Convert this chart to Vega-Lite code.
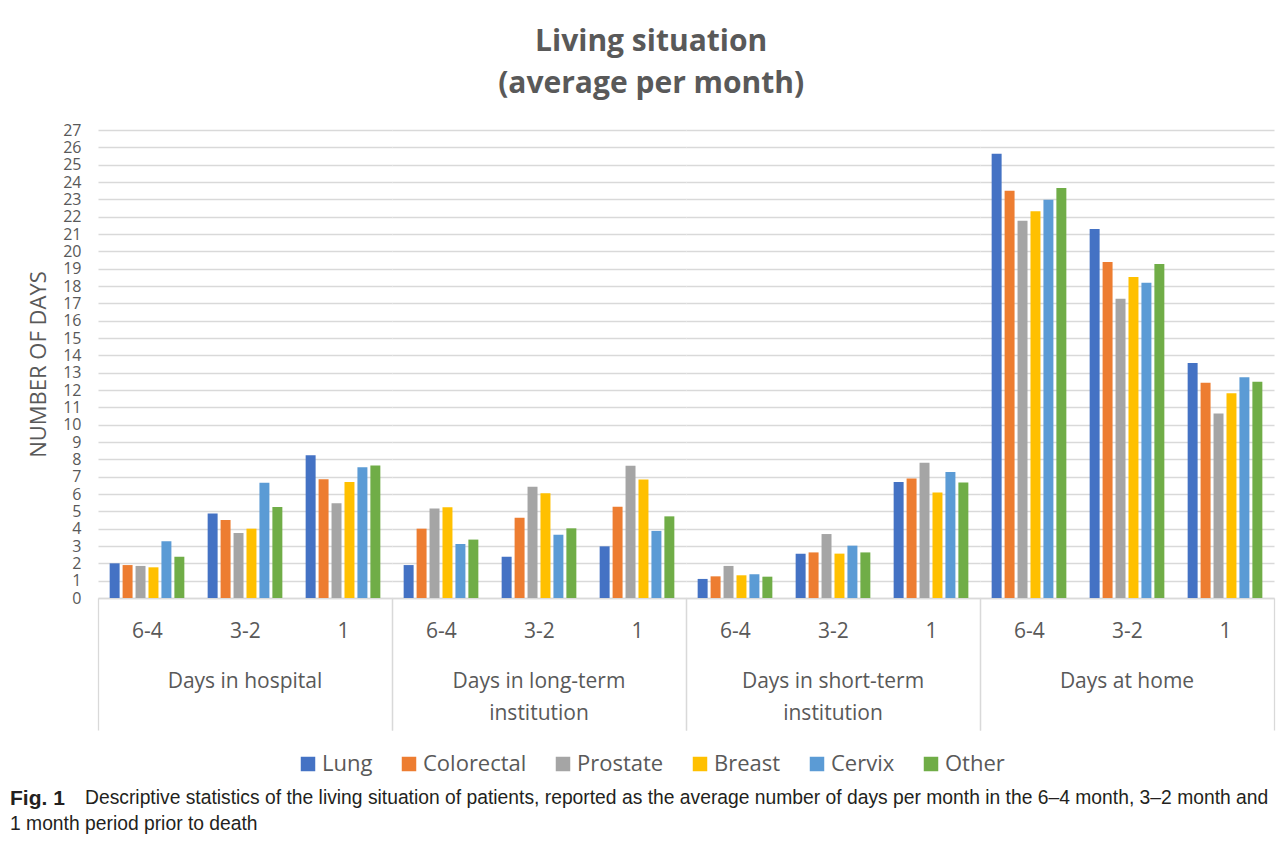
{
  "$schema": "https://vega.github.io/schema/vega-lite/v6.json",
  "padding": {"left": 10, "top": 27, "right": 5, "bottom": 5},
  "background": "white",
  "config": {
    "font": "Open Sans",
    "view": {"stroke": null},
    "axis": {"labelColor": "#595959", "titleColor": "#595959"},
    "legend": {
      "orient": "bottom",
      "direction": "horizontal",
      "symbolType": "square",
      "symbolSize": 210,
      "symbolStrokeWidth": 0,
      "labelFontSize": 22,
      "labelColor": "#595959",
      "columnPadding": 25,
      "labelOffset": 3,
      "offset": 22,
      "layout": {"bottom": {"anchor": "middle"}}
    }
  },
  "title": {
    "text": "Fig. 1",
    "subtitle": ["\u200b\u00a0\u00a0\u00a0\u00a0\u00a0\u00a0\u00a0\u00a0\u00a0\u00a0\u00a0\u00a0\u00a0\u00a0Descriptive statistics of the living situation of patients, reported as the average number of days per month in the 6–4 month, 3–2 month and", "1 month period prior to death"],
    "orient": "bottom",
    "anchor": "start",
    "frame": "group",
    "font": "Liberation Sans",
    "subtitleFont": "Liberation Sans",
    "fontSize": 21,
    "subtitleFontSize": 19.3,
    "fontWeight": "bold",
    "color": "#231f20",
    "subtitleColor": "#231f20",
    "lineHeight": 26,
    "subtitleLineHeight": 26,
    "subtitlePadding": -20,
    "offset": 13,
    "dx": -88
  },
  "vconcat": [
    {
      "data": {
        "values": [
          {"group": "Days in hospital", "period": "6-4", "cancer": "Lung", "days": 2.0},
          {"group": "Days in hospital", "period": "6-4", "cancer": "Colorectal", "days": 1.9},
          {"group": "Days in hospital", "period": "6-4", "cancer": "Prostate", "days": 1.85},
          {"group": "Days in hospital", "period": "6-4", "cancer": "Breast", "days": 1.77},
          {"group": "Days in hospital", "period": "6-4", "cancer": "Cervix", "days": 3.27},
          {"group": "Days in hospital", "period": "6-4", "cancer": "Other", "days": 2.38},
          {"group": "Days in hospital", "period": "3-2", "cancer": "Lung", "days": 4.88},
          {"group": "Days in hospital", "period": "3-2", "cancer": "Colorectal", "days": 4.5},
          {"group": "Days in hospital", "period": "3-2", "cancer": "Prostate", "days": 3.75},
          {"group": "Days in hospital", "period": "3-2", "cancer": "Breast", "days": 4.0},
          {"group": "Days in hospital", "period": "3-2", "cancer": "Cervix", "days": 6.65},
          {"group": "Days in hospital", "period": "3-2", "cancer": "Other", "days": 5.25},
          {"group": "Days in hospital", "period": "1", "cancer": "Lung", "days": 8.23},
          {"group": "Days in hospital", "period": "1", "cancer": "Colorectal", "days": 6.85},
          {"group": "Days in hospital", "period": "1", "cancer": "Prostate", "days": 5.46},
          {"group": "Days in hospital", "period": "1", "cancer": "Breast", "days": 6.69},
          {"group": "Days in hospital", "period": "1", "cancer": "Cervix", "days": 7.54},
          {"group": "Days in hospital", "period": "1", "cancer": "Other", "days": 7.65},
          {"group": "Days in long-term institution", "period": "6-4", "cancer": "Lung", "days": 1.9},
          {"group": "Days in long-term institution", "period": "6-4", "cancer": "Colorectal", "days": 4.0},
          {"group": "Days in long-term institution", "period": "6-4", "cancer": "Prostate", "days": 5.17},
          {"group": "Days in long-term institution", "period": "6-4", "cancer": "Breast", "days": 5.23},
          {"group": "Days in long-term institution", "period": "6-4", "cancer": "Cervix", "days": 3.12},
          {"group": "Days in long-term institution", "period": "6-4", "cancer": "Other", "days": 3.37},
          {"group": "Days in long-term institution", "period": "3-2", "cancer": "Lung", "days": 2.38},
          {"group": "Days in long-term institution", "period": "3-2", "cancer": "Colorectal", "days": 4.63},
          {"group": "Days in long-term institution", "period": "3-2", "cancer": "Prostate", "days": 6.42},
          {"group": "Days in long-term institution", "period": "3-2", "cancer": "Breast", "days": 6.04},
          {"group": "Days in long-term institution", "period": "3-2", "cancer": "Cervix", "days": 3.65},
          {"group": "Days in long-term institution", "period": "3-2", "cancer": "Other", "days": 4.02},
          {"group": "Days in long-term institution", "period": "1", "cancer": "Lung", "days": 2.98},
          {"group": "Days in long-term institution", "period": "1", "cancer": "Colorectal", "days": 5.27},
          {"group": "Days in long-term institution", "period": "1", "cancer": "Prostate", "days": 7.63},
          {"group": "Days in long-term institution", "period": "1", "cancer": "Breast", "days": 6.83},
          {"group": "Days in long-term institution", "period": "1", "cancer": "Cervix", "days": 3.87},
          {"group": "Days in long-term institution", "period": "1", "cancer": "Other", "days": 4.71},
          {"group": "Days in short-term institution", "period": "6-4", "cancer": "Lung", "days": 1.1},
          {"group": "Days in short-term institution", "period": "6-4", "cancer": "Colorectal", "days": 1.25},
          {"group": "Days in short-term institution", "period": "6-4", "cancer": "Prostate", "days": 1.85},
          {"group": "Days in short-term institution", "period": "6-4", "cancer": "Breast", "days": 1.31},
          {"group": "Days in short-term institution", "period": "6-4", "cancer": "Cervix", "days": 1.37},
          {"group": "Days in short-term institution", "period": "6-4", "cancer": "Other", "days": 1.23},
          {"group": "Days in short-term institution", "period": "3-2", "cancer": "Lung", "days": 2.56},
          {"group": "Days in short-term institution", "period": "3-2", "cancer": "Colorectal", "days": 2.63},
          {"group": "Days in short-term institution", "period": "3-2", "cancer": "Prostate", "days": 3.69},
          {"group": "Days in short-term institution", "period": "3-2", "cancer": "Breast", "days": 2.56},
          {"group": "Days in short-term institution", "period": "3-2", "cancer": "Cervix", "days": 3.02},
          {"group": "Days in short-term institution", "period": "3-2", "cancer": "Other", "days": 2.63},
          {"group": "Days in short-term institution", "period": "1", "cancer": "Lung", "days": 6.69},
          {"group": "Days in short-term institution", "period": "1", "cancer": "Colorectal", "days": 6.9},
          {"group": "Days in short-term institution", "period": "1", "cancer": "Prostate", "days": 7.81},
          {"group": "Days in short-term institution", "period": "1", "cancer": "Breast", "days": 6.08},
          {"group": "Days in short-term institution", "period": "1", "cancer": "Cervix", "days": 7.27},
          {"group": "Days in short-term institution", "period": "1", "cancer": "Other", "days": 6.67},
          {"group": "Days at home", "period": "6-4", "cancer": "Lung", "days": 25.63},
          {"group": "Days at home", "period": "6-4", "cancer": "Colorectal", "days": 23.5},
          {"group": "Days at home", "period": "6-4", "cancer": "Prostate", "days": 21.77},
          {"group": "Days at home", "period": "6-4", "cancer": "Breast", "days": 22.31},
          {"group": "Days at home", "period": "6-4", "cancer": "Cervix", "days": 22.98},
          {"group": "Days at home", "period": "6-4", "cancer": "Other", "days": 23.65},
          {"group": "Days at home", "period": "3-2", "cancer": "Lung", "days": 21.29},
          {"group": "Days at home", "period": "3-2", "cancer": "Colorectal", "days": 19.38},
          {"group": "Days at home", "period": "3-2", "cancer": "Prostate", "days": 17.27},
          {"group": "Days at home", "period": "3-2", "cancer": "Breast", "days": 18.52},
          {"group": "Days at home", "period": "3-2", "cancer": "Cervix", "days": 18.19},
          {"group": "Days at home", "period": "3-2", "cancer": "Other", "days": 19.27},
          {"group": "Days at home", "period": "1", "cancer": "Lung", "days": 13.56},
          {"group": "Days at home", "period": "1", "cancer": "Colorectal", "days": 12.42},
          {"group": "Days at home", "period": "1", "cancer": "Prostate", "days": 10.65},
          {"group": "Days at home", "period": "1", "cancer": "Breast", "days": 11.81},
          {"group": "Days at home", "period": "1", "cancer": "Cervix", "days": 12.73},
          {"group": "Days at home", "period": "1", "cancer": "Other", "days": 12.48}
        ]
      },
      "title": {
        "text": ["Living situation", "(average per month)"],
        "fontSize": 30,
        "fontWeight": "bold",
        "color": "#595959",
        "lineHeight": 42,
        "anchor": "middle",
        "offset": 23
      },
      "spacing": 0,
      "facet": {
        "column": {
          "field": "group",
          "type": "nominal",
          "sort": ["Days in hospital", "Days in long-term institution", "Days in short-term institution", "Days at home"],
          "title": null,
          "header": {
            "labelOrient": "bottom",
            "labelPadding": -60,
            "labelFontSize": 21,
            "labelColor": "#595959",
            "labelLineHeight": 32,
            "labelExpr": "datum.value == 'Days in long-term institution' ? ['Days in long-term', 'institution'] : (datum.value == 'Days in short-term institution' ? ['Days in short-term', 'institution'] : datum.value)"
          }
        }
      },
      "spec": {
        "width": 294,
        "height": 468,
        "mark": {"type": "bar"},
        "encoding": {
          "x": {
            "field": "period",
            "type": "nominal",
            "sort": ["6-4", "3-2", "1"],
            "scale": {"paddingInner": 0, "paddingOuter": 0},
            "axis": {
              "title": null,
              "labelAngle": 0,
              "labelFontSize": 21,
              "labelColor": "#595959",
              "tickBand": "extent",
              "tickSize": 132,
              "tickWidth": 1.3,
              "tickColor": {"condition": {"test": "datum.extra || datum.value === '1'", "value": "#d9d9d9"}, "value": "rgba(0,0,0,0)"},
              "labelPadding": -110,
              "domainColor": "#d9d9d9",
              "domainWidth": 1.3,
              "grid": false
            }
          },
          "xOffset": {
            "field": "cancer",
            "sort": ["Lung", "Colorectal", "Prostate", "Breast", "Cervix", "Other"],
            "scale": {"paddingInner": 0.23, "paddingOuter": 0.9}
          },
          "y": {
            "field": "days",
            "type": "quantitative",
            "scale": {"domain": [0, 27], "nice": false},
            "axis": {
              "values": [0, 1, 2, 3, 4, 5, 6, 7, 8, 9, 10, 11, 12, 13, 14, 15, 16, 17, 18, 19, 20, 21, 22, 23, 24, 25, 26, 27],
              "title": "NUMBER OF DAYS",
              "titleFontSize": 22,
              "titleFontWeight": "normal",
              "titlePadding": 12,
              "labelFontSize": 16,
              "labelPadding": 17,
              "domain": false,
              "ticks": false,
              "gridColor": "#d9d9d9",
              "gridWidth": 1.3
            }
          },
          "color": {
            "field": "cancer",
            "type": "nominal",
            "sort": ["Lung", "Colorectal", "Prostate", "Breast", "Cervix", "Other"],
            "scale": {
              "domain": ["Lung", "Colorectal", "Prostate", "Breast", "Cervix", "Other"],
              "range": ["#4472c4", "#ed7d31", "#a5a5a5", "#ffc000", "#5b9bd5", "#70ad47"]
            },
            "legend": {"title": null}
          }
        }
      }
    }
  ]
}
